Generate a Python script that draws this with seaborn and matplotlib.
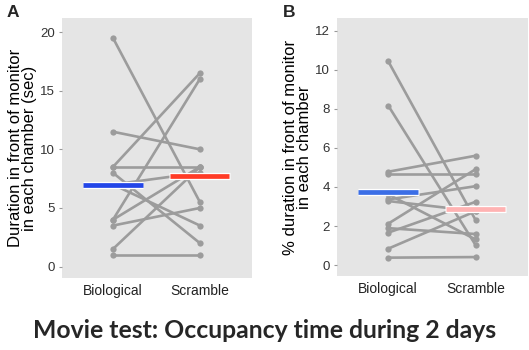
import numpy as np
import pandas as pd
import matplotlib
matplotlib.use("Agg")
import matplotlib.pyplot as plt
import seaborn as sns

# Panel A: duration (sec), one entry per animal
bio_sec = [19.5, 11.5, 8.5, 8.5, 8.0, 7.0, 7.0, 4.0, 4.0, 3.5, 1.5, 1.0]
scr_sec = [5.5, 10.0, 16.5, 8.5, 2.0, 8.0, 3.5, 16.0, 8.5, 5.0, 8.5, 1.0]

# Panel B: % duration, one entry per animal
bio_pct = [10.44, 8.17, 4.78, 4.66, 3.62, 3.36, 3.28, 2.12, 1.89, 1.66, 0.84, 0.38]
scr_pct = [2.30, 1.02, 5.60, 4.66, 1.31, 4.04, 2.76, 4.91, 1.59, 3.24, 2.76, 0.41]

conditions = ["Biological", "Scramble"]
title = "Movie test: Occupancy time during 2 days"

sns.set_style("white")
plt.rcParams['font.family'] = ['Liberation Sans', 'DejaVu Sans']

fig = plt.figure(figsize=(5.29, 3.5), dpi=100)
ax_a = fig.add_axes([0.1172, 0.2057, 0.359, 0.743])
ax_b = fig.add_axes([0.637, 0.2114, 0.361, 0.737])


def long_frame(bio, scr):
    n = len(bio)
    return pd.DataFrame({
        "subject": list(range(n)) * 2,
        "condition": [conditions[0]] * n + [conditions[1]] * n,
        "value": list(bio) + list(scr),
    })


def draw_panel(ax, bio, scr, ylim, yticks, ylabel, bar_colors, letter, letter_x):
    df = long_frame(bio, scr)
    ax.set_facecolor("#e5e5e5")
    sns.lineplot(data=df, x="condition", y="value", units="subject",
                 estimator=None, color="#9c9c9c", linewidth=1.9,
                 marker="o", markersize=4.5, markeredgewidth=0,
                 ax=ax, legend=False)
    means = df.groupby("condition", sort=False)["value"].mean()
    for i, cond in enumerate(conditions):
        m = means[cond]
        ax.hlines(m, i - 0.35, i + 0.35, color="white", linewidth=5.2, zorder=4)
        ax.hlines(m, i - 0.34, i + 0.34, color=bar_colors[i], linewidth=3.4, zorder=5)
    ax.set_xlim(-0.586, 1.598)
    ax.set_ylim(*ylim)
    ax.set_yticks(yticks)
    ax.set_xlabel("")
    ax.set_ylabel(ylabel, fontsize=12, color="black", labelpad=2, linespacing=0.95)
    ax.tick_params(axis="y", length=2, color="#999999", labelsize=9.5,
                   labelcolor="#333333", pad=3, left=True)
    ax.tick_params(axis="x", length=0, labelsize=10, labelcolor="#222222", pad=4)
    for lbl in ax.get_xticklabels() + ax.get_yticklabels():
        lbl.set_family(["Liberation Sans", "DejaVu Sans"])
    for s in ax.spines.values():
        s.set_visible(False)
    fig.text(letter_x, 0.985, letter, fontsize=12.5, fontweight="bold", va="top")


draw_panel(ax_a, bio_sec, scr_sec, (-0.97, 21.2), [0, 5, 10, 15, 20],
           "Duration in front of monitor\nin each chamber (sec)",
           ["#2346e8", "#ff3b26"], "A", 0.012)
draw_panel(ax_b, bio_pct, scr_pct, (-0.56, 12.65), [0, 2, 4, 6, 8, 10, 12],
           "% duration in front of monitor\nin each chamber",
           ["#3b6ee6", "#ffb3b3"], "B", 0.535)

fig.text(0.5, 0.055, title, ha="center", va="center", fontsize=17.8,
         fontweight="bold", family=["Lato", "DejaVu Sans"])

plt.savefig("out.png", dpi=100)
